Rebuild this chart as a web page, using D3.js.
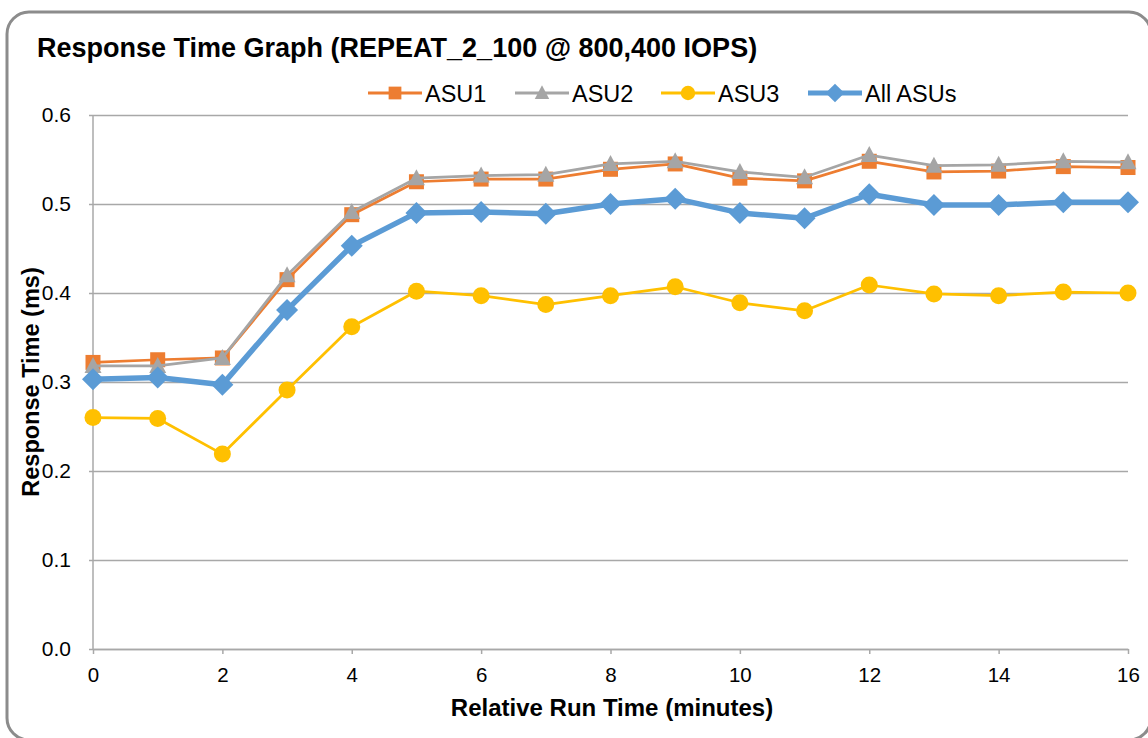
<!DOCTYPE html>
<html>
<head>
<meta charset="utf-8">
<script src="https://cdn.jsdelivr.net/npm/d3@7"></script>
<style>
  html, body { margin: 0; padding: 0; background: #fff; }
  svg { display: block; font-family: "Liberation Sans", Arial, sans-serif; }
</style>
</head>
<body>
<svg id="chart" width="1148" height="738"></svg>
<script>
// Relative run time, minutes
const minutes = [0, 1, 2, 3, 4, 5, 6, 7, 8, 9, 10, 11, 12, 13, 14, 15, 16];

// Response times (ms) per ASU
const asu1 = [0.322, 0.325, 0.327, 0.415, 0.488, 0.525, 0.528, 0.528, 0.539, 0.545, 0.529, 0.526, 0.548, 0.536, 0.537, 0.542, 0.541];
const asu2 = [0.318, 0.318, 0.327, 0.420, 0.491, 0.529, 0.532, 0.533, 0.545, 0.548, 0.536, 0.530, 0.555, 0.543, 0.544, 0.548, 0.547];
const asu3 = [0.260, 0.259, 0.219, 0.291, 0.362, 0.402, 0.397, 0.387, 0.397, 0.407, 0.389, 0.380, 0.409, 0.399, 0.397, 0.401, 0.400];
const allAsus = [0.303, 0.305, 0.297, 0.381, 0.453, 0.490, 0.491, 0.489, 0.500, 0.506, 0.490, 0.484, 0.511, 0.499, 0.499, 0.502, 0.502];

const seriesNames = ["ASU1", "ASU2", "ASU3", "All ASUs"];
const xTicks = [0, 2, 4, 6, 8, 10, 12, 14, 16];
const yTicks = [0.0, 0.1, 0.2, 0.3, 0.4, 0.5, 0.6];

const titleText = "Response Time Graph (REPEAT_2_100 @ 800,400 IOPS)";
const xTitle = "Relative Run Time (minutes)";
const yTitle = "Response Time (ms)";

const series = [
  { name: seriesNames[0], values: asu1, color: "#ED7D31", width: 2.75, marker: "square" },
  { name: seriesNames[1], values: asu2, color: "#A5A5A5", width: 2.75, marker: "triangle" },
  { name: seriesNames[2], values: asu3, color: "#FFC000", width: 2.75, marker: "circle" },
  { name: seriesNames[3], values: allAsus, color: "#5B9BD5", width: 5.5, marker: "diamond" }
];

const svg = d3.select("#chart");

// Chart frame (runs slightly past the right and bottom edges)
svg.append("rect")
  .attr("x", 7).attr("y", 12)
  .attr("width", 1144).attr("height", 728)
  .attr("rx", 22).attr("ry", 22)
  .attr("fill", "#fff")
  .attr("stroke", "#8c8c8c")
  .attr("stroke-width", 3);

const plot = { left: 93, right: 1128, top: 115, bottom: 649 };

const x = d3.scaleLinear().domain([0, 16]).range([plot.left, plot.right]);
const y = d3.scaleLinear().domain([0, 0.6]).range([plot.bottom, plot.top]);

const gridColor = "#a8a8a8";

// Horizontal gridlines + left ticks
const yAxis = d3.axisLeft(y)
  .tickValues(yTicks)
  .tickFormat(d3.format(".1f"))
  .tickSize(-(plot.right - plot.left))
  .tickPadding(22);

const gy = svg.append("g")
  .attr("transform", `translate(${plot.left},0)`)
  .call(yAxis);
gy.select(".domain").remove();
gy.selectAll(".tick line")
  .attr("x1", -4)
  .attr("stroke", gridColor)
  .attr("stroke-width", 1.5);
gy.selectAll(".tick text")
  .attr("fill", "#000")
  .attr("font-size", 21)
  .attr("font-family", "Liberation Sans, Arial, sans-serif");

// Vertical axis line
svg.append("line")
  .attr("x1", plot.left).attr("x2", plot.left)
  .attr("y1", plot.top).attr("y2", plot.bottom)
  .attr("stroke", gridColor).attr("stroke-width", 1.5);

// Bottom axis
const xAxis = d3.axisBottom(x)
  .tickValues(xTicks)
  .tickFormat(d3.format("d"))
  .tickSize(5)
  .tickSizeOuter(0)
  .tickPadding(13);

const gx = svg.append("g")
  .attr("transform", `translate(0,${plot.bottom})`)
  .call(xAxis);
gx.select(".domain").attr("stroke", gridColor).attr("stroke-width", 1.5);
gx.selectAll(".tick line").attr("stroke", gridColor).attr("stroke-width", 1.5);
gx.selectAll(".tick text")
  .attr("fill", "#000")
  .attr("font-size", 20.5)
  .attr("font-family", "Liberation Sans, Arial, sans-serif");

// Marker shapes, scaled by k
function drawMarker(sel, type, color, k) {
  if (type === "square") {
    sel.append("rect").attr("x", -7.5 * k).attr("y", -7.5 * k).attr("width", 15 * k).attr("height", 15 * k).attr("fill", color);
  } else if (type === "triangle") {
    sel.append("path").attr("d", `M0,${-9 * k}L${8.5 * k},${7 * k}L${-8.5 * k},${7 * k}Z`).attr("fill", color);
  } else if (type === "circle") {
    sel.append("circle").attr("r", 8.5 * k).attr("fill", color);
  } else if (type === "diamond") {
    sel.append("path").attr("d", `M0,${-11 * k}L${11 * k},0L0,${11 * k}L${-11 * k},0Z`).attr("fill", color);
  }
}

// Lines and markers
const line = d3.line()
  .x((d, i) => x(minutes[i]))
  .y(d => y(d));

series.forEach(s => {
  const g = svg.append("g");
  g.append("path")
    .datum(s.values)
    .attr("d", line)
    .attr("fill", "none")
    .attr("stroke", s.color)
    .attr("stroke-width", s.width)
    .attr("stroke-linejoin", "round");
  g.selectAll("g.pt")
    .data(s.values)
    .join("g")
    .attr("class", "pt")
    .attr("transform", (d, i) => `translate(${x(minutes[i])},${y(d)})`)
    .each(function () { drawMarker(d3.select(this), s.marker, s.color, 1); });
});

// Title
svg.append("text")
  .attr("x", 37).attr("y", 57)
  .attr("font-size", 27)
  .attr("font-weight", "bold")
  .attr("fill", "#000")
  .text(titleText);

// Legend
const legendX = [368, 515, 661, 808];
const legendY = 93;
series.forEach((s, i) => {
  const g = svg.append("g").attr("transform", `translate(${legendX[i]},${legendY})`);
  g.append("line")
    .attr("x1", 0).attr("x2", 54)
    .attr("stroke", s.color)
    .attr("stroke-width", s.marker === "diamond" ? 5 : 3);
  const m = g.append("g").attr("transform", "translate(27,0)");
  drawMarker(m, s.marker, s.color, 0.85);
  g.append("text")
    .attr("x", 57).attr("y", 8.5)
    .attr("font-size", 23.5)
    .attr("fill", "#000")
    .text(s.name);
});

// Axis titles
svg.append("text")
  .attr("x", 612)
  .attr("y", 716)
  .attr("text-anchor", "middle")
  .attr("font-size", 24)
  .attr("font-weight", "bold")
  .attr("fill", "#000")
  .text(xTitle);

svg.append("text")
  .attr("transform", "translate(39,382) rotate(-90)")
  .attr("text-anchor", "middle")
  .attr("font-size", 23.5)
  .attr("font-weight", "bold")
  .attr("fill", "#000")
  .text(yTitle);
</script>
</body>
</html>
